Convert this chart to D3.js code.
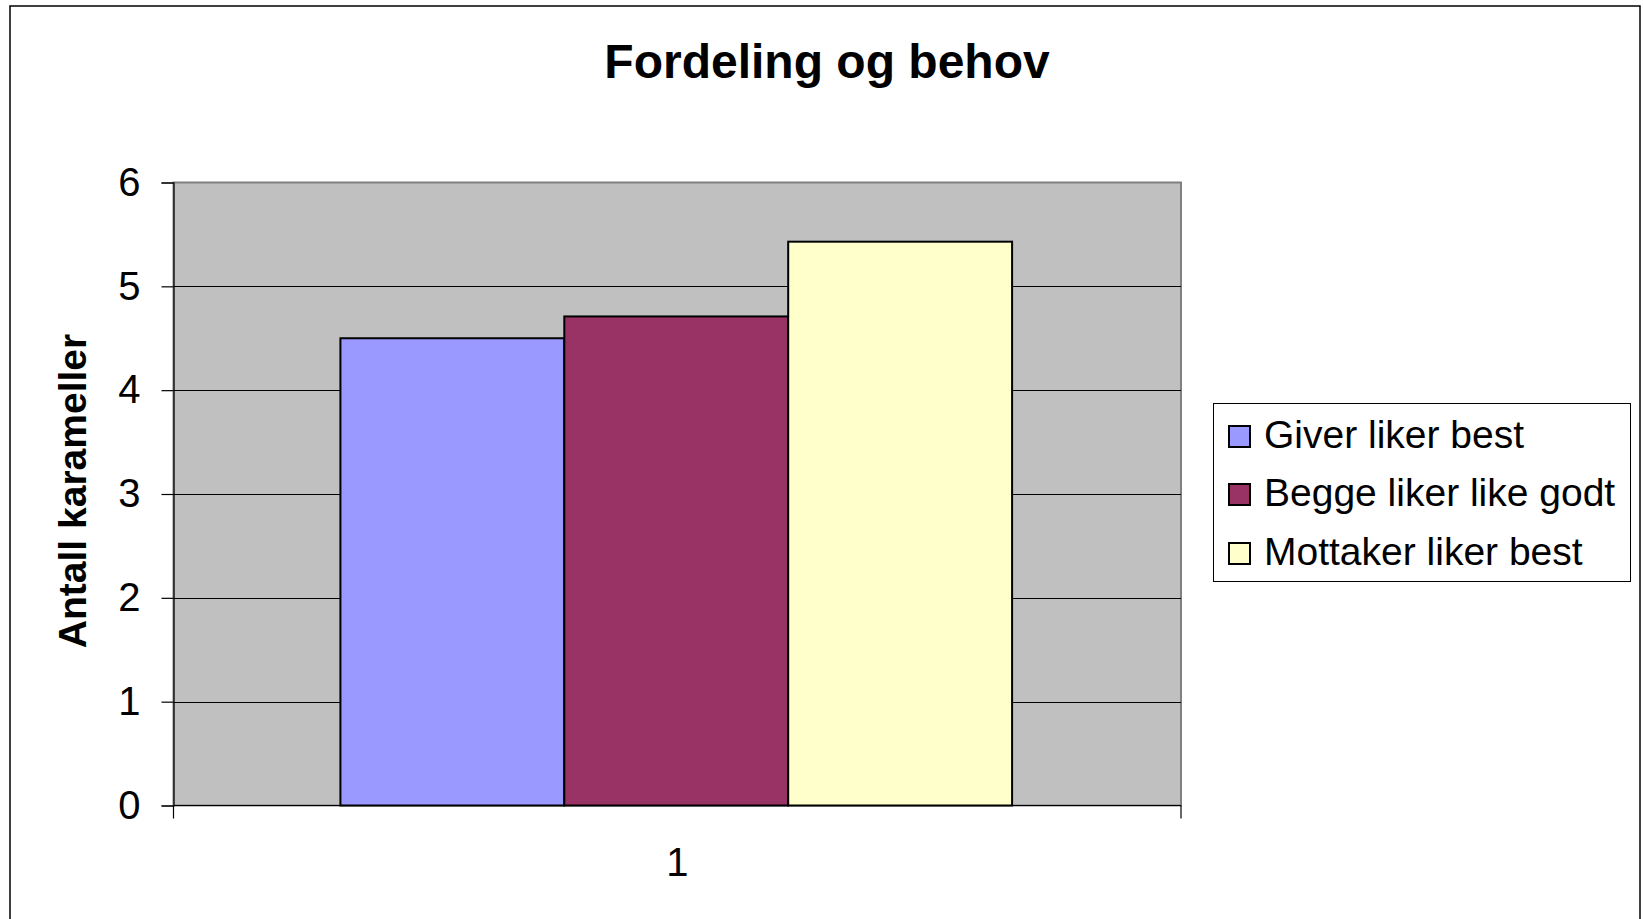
<!DOCTYPE html>
<html>
<head>
<meta charset="utf-8">
<script src="https://cdn.jsdelivr.net/npm/d3@7"></script>
<style>
  html, body { margin: 0; padding: 0; background: #fff; }
  svg { display: block; font-family: "Liberation Sans", Arial, sans-serif; }
</style>
</head>
<body>
<script>
const title = "Fordeling og behov";
const yAxisTitle = "Antall karameller";
const categories = ["1"];
const seriesNames = ["Giver liker best", "Begge liker like godt", "Mottaker liker best"];
const seriesValues = [4.5, 4.71, 5.43];
const seriesColors = ["#9999FF", "#993366", "#FFFFCC"];
const yTicks = [0, 1, 2, 3, 4, 5, 6];

const W = 1643, H = 919;
const plot = { left: 173.5, right: 1181, top: 182.5, bottom: 805.5 };

const svg = d3.select("body").append("svg").attr("width", W).attr("height", H);

// outer chart frame
svg.append("rect").attr("x", 10).attr("y", 6).attr("width", 1630).attr("height", 930)
  .attr("fill", "#fff").attr("stroke", "#000").attr("stroke-width", 1.5);

// title
svg.append("text").attr("x", 827).attr("y", 78).attr("text-anchor", "middle")
  .attr("font-size", 48).attr("font-weight", "bold").attr("fill", "#000").text(title);

const y = d3.scaleLinear().domain([0, 6]).range([plot.bottom, plot.top]);
const x0 = d3.scaleBand().domain(categories).range([plot.left, plot.right]).paddingInner(0).paddingOuter(0);
// gap width 150%: group occupies 3/(3+1.5) of the band
const groupW = x0.bandwidth() * 3 / 4.5;
const x1 = d3.scaleBand().domain(seriesNames).range([0, groupW]).padding(0);

// plot area
svg.append("rect").attr("x", plot.left).attr("y", plot.top)
  .attr("width", plot.right - plot.left).attr("height", plot.bottom - plot.top)
  .attr("fill", "#C0C0C0").attr("stroke", "#808080").attr("stroke-width", 2);

// gridlines
svg.append("g").selectAll("line").data(yTicks.filter(d => d > 0 && d < 6)).join("line")
  .attr("x1", plot.left).attr("x2", plot.right)
  .attr("y1", d => Math.round(y(d)) + 0.5).attr("y2", d => Math.round(y(d)) + 0.5)
  .attr("stroke", "#000").attr("stroke-width", 1);

// bars
const g = svg.append("g");
categories.forEach(cat => {
  const gx = x0(cat) + (x0.bandwidth() - groupW) / 2 - 1;
  g.selectAll("rect.bar").data(seriesValues.map((v, i) => ({ v, i }))).join("rect")
    .attr("class", "bar")
    .attr("x", d => gx + x1(seriesNames[d.i]))
    .attr("y", d => y(d.v))
    .attr("width", x1.bandwidth())
    .attr("height", d => y(0) - y(d.v))
    .attr("fill", d => seriesColors[d.i])
    .attr("stroke", "#000").attr("stroke-width", 2);
});

// y axis
const yAxis = d3.axisLeft(y).tickValues(yTicks).tickSize(12).tickPadding(21).tickFormat(d3.format("d"));
const ya = svg.append("g").attr("transform", `translate(${plot.left},0)`).call(yAxis);
ya.select(".domain").attr("stroke", "#000").attr("stroke-width", 1.2);
ya.selectAll(".tick line").attr("stroke", "#000").attr("stroke-width", 1.2);
ya.selectAll(".tick text").attr("font-size", 40).attr("fill", "#000")
  .attr("font-family", "'Liberation Sans', Arial, sans-serif");

// x axis
const xa = svg.append("g").attr("transform", `translate(0,${plot.bottom})`);
xa.append("line").attr("x1", plot.left).attr("x2", plot.right).attr("y1", 0).attr("y2", 0)
  .attr("stroke", "#000").attr("stroke-width", 1.2);
[plot.left, plot.right].forEach(px => {
  xa.append("line").attr("x1", px).attr("x2", px).attr("y1", 0).attr("y2", 13)
    .attr("stroke", "#000").attr("stroke-width", 1.2);
});
xa.selectAll("text.cat").data(categories).join("text").attr("class", "cat")
  .attr("x", d => x0(d) + x0.bandwidth() / 2).attr("y", 876 - plot.bottom)
  .attr("text-anchor", "middle").attr("font-size", 40).attr("fill", "#000").text(d => d);

// y axis title
svg.append("text").attr("transform", `translate(85.5,491) rotate(-90)`)
  .attr("text-anchor", "middle").attr("font-size", 39).attr("font-weight", "bold")
  .attr("fill", "#000").text(yAxisTitle);

// legend
const lg = svg.append("g");
lg.append("rect").attr("x", 1213.5).attr("y", 403.5).attr("width", 417).attr("height", 178)
  .attr("fill", "#fff").attr("stroke", "#000").attr("stroke-width", 1);
const rowY = [448, 506, 565];
seriesNames.forEach((name, i) => {
  lg.append("rect").attr("x", 1229).attr("y", rowY[i] - 22).attr("width", 21).attr("height", 21)
    .attr("fill", seriesColors[i]).attr("stroke", "#000").attr("stroke-width", 2);
  lg.append("text").attr("x", 1264).attr("y", rowY[i]).attr("font-size", 39)
    .attr("fill", "#000").text(name);
});
</script>
</body>
</html>
